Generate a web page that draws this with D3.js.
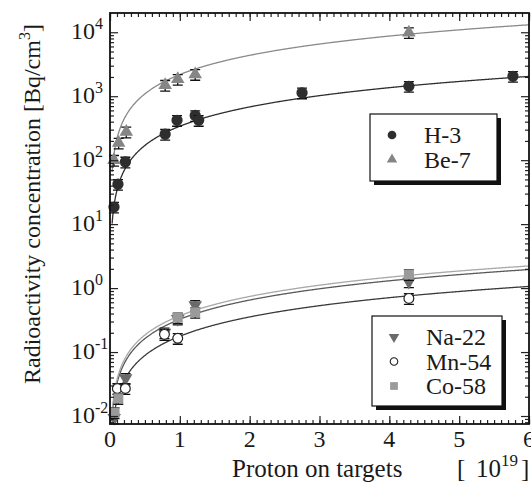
<!DOCTYPE html>
<html>
<head>
<meta charset="utf-8">
<script src="https://cdn.jsdelivr.net/npm/d3@7"></script>
</head>
<body style="margin:0">
<svg id="chart" width="531" height="488"></svg>
<script>
// points: [proton on target (x1e19), concentration Bq/cm3]
const h3   = [[0.057, 18.5], [0.114, 42], [0.22, 94], [0.79, 255], [0.96, 420], [1.22, 500], [1.27, 420], [2.75, 1130], [4.28, 1430], [5.77, 2050]];
const be7  = [[0.057, 100], [0.124, 186], [0.233, 277], [0.79, 1490], [0.97, 1845], [1.22, 2200], [4.28, 9900]];
const na22 = [[0.06, 0.0093], [0.224, 0.039], [0.78, 0.2], [0.97, 0.33], [1.22, 0.54], [4.28, 1.26]];
const mn54 = [[0.105, 0.027], [0.22, 0.027], [0.78, 0.189], [0.97, 0.164], [4.28, 0.69]];
const co58 = [[0.065, 0.0113], [0.119, 0.0189], [0.97, 0.344], [1.22, 0.42], [4.28, 1.64]];
// slope of the proportional fit through each nuclide, and relative error bar
const nuclides  = ["H-3", "Be-7", "Na-22", "Mn-54", "Co-58"];
const fitSlopes = [340, 2180, 0.325, 0.177, 0.37];
const relErrors = [0.1, 0.1, 0.1, 0.1, 0.1];
const xTicks = [0, 1, 2, 3, 4, 5, 6];
const yExponents = [-2, -1, 0, 1, 2, 3, 4];

const svg = d3.select("#chart");
const m = { left: 110, top: 13, right: 2, bottom: 64 };
const width = 531 - m.left - m.right;
const height = 488 - m.top - m.bottom;

const x = d3.scaleLinear().domain([0, 6]).range([0, width]);
const y = d3.scaleLog().domain([0.0075, 20000]).range([height, 0]);

const g = svg.append("g").attr("transform", `translate(${m.left},${m.top})`);

// clip for the fit curves
svg.append("defs").append("clipPath").attr("id", "plotClip")
  .append("rect").attr("width", width).attr("height", height);

// marker looks for each nuclide
const looks = {
  "H-3":   { sym: d3.symbolCircle,   size: 100, fill: "#2e2e2e", stroke: "none", line: "#2e2e2e", rot: 0 },
  "Be-7":  { sym: d3.symbolTriangle, size: 80,  fill: "#858585", stroke: "none", line: "#8a8a8a", rot: 0 },
  "Na-22": { sym: d3.symbolTriangle, size: 80,  fill: "#6a6a6a", stroke: "none", line: "#5a5a5a", rot: 180 },
  "Mn-54": { sym: d3.symbolCircle,   size: 75,  fill: "#fff",    stroke: "#222", line: "#3a3a3a", rot: 0 },
  "Co-58": { sym: d3.symbolSquare,   size: 100, fill: "#9a9a9a", stroke: "none", line: "#a8a8a8", rot: 0 }
};
const seriesData = { "H-3": h3, "Be-7": be7, "Na-22": na22, "Mn-54": mn54, "Co-58": co58 };

// fit lines y = a * x
const fitX = d3.range(0.03, 6.001, 0.01);
const line = d3.line().x(d => x(d[0])).y(d => y(d[1]));
g.append("g").attr("clip-path", "url(#plotClip)")
  .selectAll("path").data(nuclides).join("path")
    .attr("fill", "none")
    .attr("stroke", n => looks[n].line)
    .attr("stroke-width", 1.3)
    .attr("d", (n, i) => line(fitX.map(v => [v, fitSlopes[i] * v]).filter(d => d[1] >= 0.0075)));

// markers with error bars; Na under Mn under Co, H under Be
nuclides.forEach((n, i) => {
  const lk = looks[n];
  const pts = g.append("g").selectAll("g").data(seriesData[n]).join("g")
    .attr("transform", d => `translate(${x(d[0])},${y(d[1])})`);
  pts.append("path")
    .attr("fill", "none").attr("stroke", "#111").attr("stroke-width", 1.3)
    .attr("d", d => {
      const lo = y(d[1] * (1 - relErrors[i])) - y(d[1]) + 3;
      const hi = y(d[1] * (1 + relErrors[i])) - y(d[1]) - 2;
      return `M0,${lo}V${hi}M-5,${lo}H5M-5,${hi}H5`;
    });
  pts.append("path")
    .attr("d", d3.symbol(lk.sym, lk.size))
    .attr("transform", `rotate(${lk.rot})`)
    .attr("fill", lk.fill)
    .attr("stroke", lk.stroke)
    .attr("stroke-width", 1.2);
});

// ticks, all pointing inward
const yMinor = [];
yExponents.concat([-3]).forEach(e => d3.range(2, 10).forEach(k => {
  const v = k * Math.pow(10, e);
  if (v > 0.0075 && v < 20000) yMinor.push(v);
}));
const yMajor = yExponents.map(e => Math.pow(10, e));
const xMinor = d3.range(0, 6.001, 0.1);

function tickAxis(axis, values, size, tr) {
  const a = g.append("g").attr("transform", tr)
    .call(axis.tickValues(values).tickSize(-size).tickFormat(""));
  a.select(".domain").remove();
  a.selectAll("line").attr("stroke", "#222").attr("stroke-width", 1.2);
}
tickAxis(d3.axisBottom(x), xMinor, 4, `translate(0,${height})`);
tickAxis(d3.axisBottom(x), xTicks, 8, `translate(0,${height})`);
tickAxis(d3.axisTop(x), xMinor, 4, "translate(0,0)");
tickAxis(d3.axisTop(x), xTicks, 8, "translate(0,0)");
tickAxis(d3.axisLeft(y), yMinor, 4, "translate(0,0)");
tickAxis(d3.axisLeft(y), yMajor, 8, "translate(0,0)");
tickAxis(d3.axisRight(y), yMinor, 4, `translate(${width},0)`);
tickAxis(d3.axisRight(y), yMajor, 8, `translate(${width},0)`);

// frame
g.append("rect").attr("width", width).attr("height", height)
  .attr("fill", "none").attr("stroke", "#111").attr("stroke-width", 1.8);

// x tick labels
g.append("g").selectAll("text").data(xTicks).join("text")
  .attr("x", d => x(d)).attr("y", height + 23)
  .attr("text-anchor", "middle").attr("font-size", 24)
  .text(d => d);

// y tick labels as 10^n
const yl = g.append("g").selectAll("text").data(yExponents).join("text")
  .attr("x", -39).attr("y", e => y(Math.pow(10, e)) + 7)
  .attr("font-size", 24);
yl.append("tspan").text("10");
yl.append("tspan").attr("dy", -10).attr("font-size", 16).text(e => e < 0 ? "-" + (-e) : e);

// axis titles
svg.append("text").attr("x", 232).attr("y", 477).attr("font-size", 25)
  .text("Proton on targets");
const ux = svg.append("text").attr("y", 477).attr("font-size", 25);
ux.append("tspan").attr("x", 457).text("[");
ux.append("tspan").attr("x", 476).text("10");
ux.append("tspan").attr("dy", -11).attr("font-size", 17).text("19");
ux.append("tspan").attr("x", 521).attr("dy", 11).text("]");

const yt = svg.append("text")
  .attr("transform", "translate(40,204) rotate(-90)")
  .attr("text-anchor", "middle").attr("font-size", 24);
yt.append("tspan").text("Radioactivity concentration [Bq/cm");
yt.append("tspan").attr("dy", -10).attr("font-size", 16).text("3");
yt.append("tspan").attr("dy", 10).text("]");

// legends
function legend(names, bx, by, bw, bh) {
  const lg = svg.append("g").attr("transform", `translate(${bx},${by})`);
  lg.append("rect").attr("x", 4).attr("y", 4).attr("width", bw).attr("height", bh).attr("fill", "#111");
  lg.append("rect").attr("width", bw).attr("height", bh).attr("fill", "#fff").attr("stroke", "#111").attr("stroke-width", 1.2);
  names.forEach((n, k) => {
    const lk = looks[n];
    const cy = 21 + k * 24.5;
    lg.append("path")
      .attr("transform", `translate(22,${cy}) rotate(${lk.rot})`)
      .attr("d", d3.symbol(lk.sym, lk.size * 0.6))
      .attr("fill", lk.fill).attr("stroke", lk.stroke).attr("stroke-width", 1.1);
    lg.append("text").attr("x", 54).attr("y", cy + 8).attr("font-size", 24).text(n);
  });
}
legend(["H-3", "Be-7"], 370, 114, 127, 67);
legend(["Na-22", "Mn-54", "Co-58"], 372, 316, 130, 90);

svg.selectAll("text, tspan")
  .attr("font-family", "Liberation Serif")
  .style("font-family", '"Liberation Serif"')
  .attr("fill", "#1a1a1a");
</script>
</body>
</html>
